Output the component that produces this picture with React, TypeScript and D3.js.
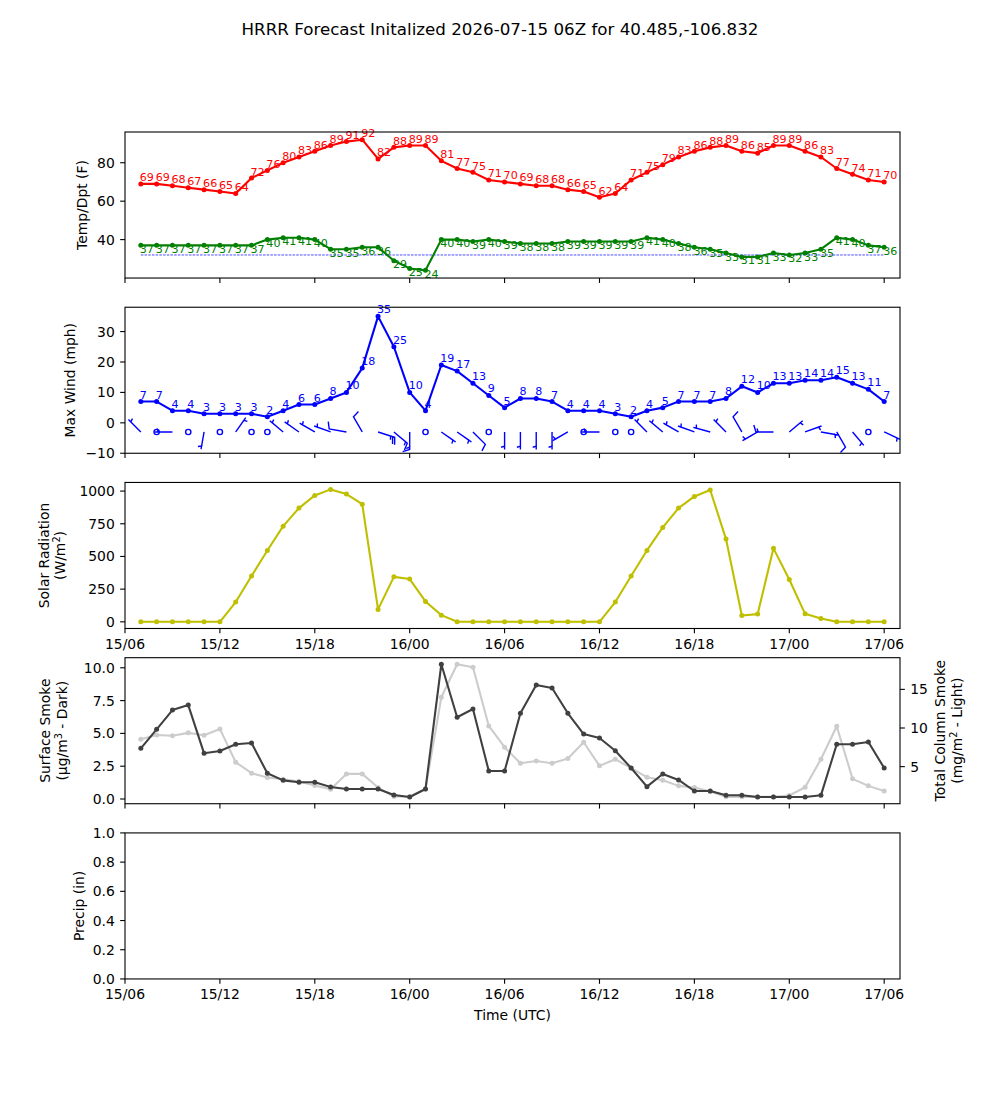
import React from "react";
import * as d3 from "d3";

// HRRR point forecast, hourly from 15/07Z to 17/06Z
const runStart = new Date(Date.UTC(2026, 6, 15, 6));
const runEnd = d3.utcHour.offset(runStart, 49);
const validTimes = d3.range(1, 49).map((h) => d3.utcHour.offset(runStart, h));

const tempF = [69, 69, 68, 67, 66, 65, 64, 72, 76, 80, 83, 86, 89, 91, 92, 82, 88,
  89, 89, 81, 77, 75, 71, 70, 69, 68, 68, 66, 65, 62, 64, 71, 75, 79, 83, 86, 88, 89, 86, 85, 89,
  89, 86, 83, 77, 74, 71, 70];
const dewF = [37, 37, 37, 37, 37, 37, 37, 37, 40, 41, 41, 40, 35, 35, 36, 36, 29,
  25, 24, 40, 40, 39, 40, 39, 38, 38, 38, 39, 39, 39, 39, 39, 41, 40, 38, 36, 35, 33, 31, 31, 33,
  32, 33, 35, 41, 40, 37, 36];
const freezingF = 32;

const maxWind = [7, 7, 4, 4, 3, 3, 3, 3, 2, 4, 6, 6, 8, 10, 18, 35, 25,
  10, 4, 19, 17, 13, 9, 5, 8, 8, 7, 4, 4, 4, 3, 2, 4, 5, 7, 7, 7, 8, 12, 10, 13,
  13, 14, 14, 15, 13, 11, 7];
// 10 m wind barbs: direction the wind blows from (deg) and speed (kt)
const barbDir = [315, 0, 270, 0, 190, 0, 35, 0, 0, 310, 305, 300, 290, 280, 330, 108, 130,
  180, 0, 125, 125, 135, 0, 180, 180, 180, 180, 240, 0, 270, 0, 0, 315, 310, 300, 290, 285, 315, 330, 240, 270,
  50, 70, 100, 150, 140, 0, 115];
const barbKt = [5, 0, 5, 0, 5, 0, 5, 0, 0, 5, 5, 5, 5, 10, 10, 25, 15,
  15, 0, 5, 5, 10, 0, 5, 5, 5, 5, 5, 0, 5, 0, 0, 5, 5, 5, 5, 5, 5, 10, 5, 15,
  5, 5, 5, 10, 5, 0, 5];
const barbLevel = -3;

const solar = [0, 0, 0, 0, 0, 0, 151, 350, 546, 732, 870, 967, 1013, 977, 900, 95, 344,
  327, 156, 51, 0, 0, 0, 0, 0, 0, 0, 0, 0, 0, 151, 350, 546, 722, 870, 959, 1008, 633, 49, 59, 562,
  324, 61, 26, 0, 0, 0, 0];

const smokeSfc = [3.86, 5.31, 6.78, 7.16, 3.48, 3.66, 4.17, 4.27, 1.96, 1.42, 1.27, 1.27, 0.91, 0.76, 0.76, 0.76, 0.3,
  0.15, 0.76, 10.27, 6.23, 6.86, 2.13, 2.13, 6.53, 8.69, 8.46, 6.53, 4.95, 4.65, 3.68, 2.36, 0.94, 1.91, 1.45, 0.61, 0.61, 0.28, 0.28, 0.15, 0.15,
  0.15, 0.15, 0.28, 4.17, 4.17, 4.34, 2.36];
const smokeCol = [8.55, 9.1, 9.0, 9.37, 9.06, 9.88, 5.57, 4.15, 3.59, 3.37, 3.07, 2.55, 2.07, 4.06, 4.06, 2.29, 1.13,
  1.1, 2.1, 13.98, 18.25, 17.86, 10.27, 7.52, 5.44, 5.74, 5.44, 6.04, 8.15, 5.1, 5.96, 4.8, 3.63, 3.24, 2.51, 2.29, 1.78, 1.09, 1.09, 1.09, 1.09,
  1.26, 2.33, 5.96, 10.23, 3.42, 2.51, 1.86];

const tempTicks = [40, 60, 80];
const windTicks = [-10, 0, 10, 20, 30];
const solarTicks = [0, 250, 500, 750, 1000];
const smokeTicks = [0, 2.5, 5, 7.5, 10];
const columnTicks = [5, 10, 15];
const precipTicks = [0, 0.2, 0.4, 0.6, 0.8, 1.0];

const FONT = "DejaVu Sans, Verdana, sans-serif";
const W = 1000;
const H = 1100;
const LEFT = 125;
const RIGHT = 900;
const PANEL_H = 146.03;
const PANEL_STEP = 175.23;
const TOP0 = 132;
const TICK = 4.86;
const SPINE = 1.1;

const x = d3.scaleUtc().domain([runStart, runEnd]).range([LEFT, RIGHT]);
const timeTicks = x.ticks(d3.utcHour.every(6));
const fmtTime = d3.utcFormat("%d/%H");

const panelTop = (i) => TOP0 + i * PANEL_STEP;
const yScale = (i, lo, hi) => d3.scaleLinear().domain([lo, hi]).range([panelTop(i) + PANEL_H, panelTop(i)]);

const yTemp = yScale(0, 20, 96);
const yWind = yScale(1, -10, 38);
const ySolar = yScale(2, -51, 1066);
const ySmoke = yScale(3, -0.36, 10.77);
const yCol = yScale(3, 0.2, 19.1);
const yPrecip = yScale(4, 0, 1);

// matplotlib-style barb: shaft tip at the point, barbs at the far end
function barbVerts(speed, dirDeg, L) {
  const spacing = L * 0.125;
  const fullH = L * 0.4;
  const fullW = L * 0.25;
  let mag = Math.round(speed / 5) * 5;
  const nFlags = Math.floor(mag / 50);
  mag -= nFlags * 50;
  const nBarbs = Math.floor(mag / 10);
  mag -= nBarbs * 10;
  const half = mag >= 5;
  if (!nFlags && !nBarbs && !half) return null;
  const v = [[0, 0]];
  let off = L;
  for (let i = 0; i < nFlags; i++) {
    if (off !== L) off += spacing / 2;
    v.push([0, off], [fullH, off - fullW / 2], [0, off - fullW]);
    off -= fullW + spacing;
  }
  for (let i = 0; i < nBarbs; i++) {
    v.push([0, off], [fullH, off + fullW / 2], [0, off]);
    off -= spacing;
  }
  if (half) {
    if (off === L) {
      v.push([0, off]);
      off -= 1.5 * spacing;
    }
    v.push([0, off], [fullH / 2, off + fullW / 4], [0, off]);
  }
  const r = (dirDeg * Math.PI) / 180;
  const ang = Math.atan2(-Math.cos(r), -Math.sin(r)) + Math.PI / 2;
  const c = Math.cos(ang);
  const s = Math.sin(ang);
  return v.map(([a, b]) => [a * c - b * s, -(a * s + b * c)]);
}

function Frame({ i, ticks, scale, fmt, xLabels }) {
  const top = panelTop(i);
  const bottom = top + PANEL_H;
  return (
    <g>
      <rect x={LEFT} y={top} width={RIGHT - LEFT} height={PANEL_H} fill="none" stroke="#000" strokeWidth={SPINE} />
      {ticks.map((t) => (
        <g key={t}>
          <line x1={LEFT - TICK} x2={LEFT} y1={scale(t)} y2={scale(t)} stroke="#000" strokeWidth={SPINE} />
          <text x={LEFT - 2 * TICK - 0.5} y={scale(t) + 5} textAnchor="end" fontSize={13.9} fontFamily={FONT}>
            {fmt(t)}
          </text>
        </g>
      ))}
      {timeTicks.map((t) => (
        <g key={+t}>
          <line x1={x(t)} x2={x(t)} y1={bottom} y2={bottom + TICK} stroke="#000" strokeWidth={SPINE} />
          {xLabels && (
            <text x={x(t)} y={bottom + 20.5} textAnchor="middle" fontSize={13.9} fontFamily={FONT}>
              {fmtTime(t)}
            </text>
          )}
        </g>
      ))}
    </g>
  );
}

function Series({ values, y, color, r = 2.5, width = 2.08 }) {
  const line = d3.line().x((d, k) => x(validTimes[k])).y((d) => y(d));
  return (
    <g>
      <path d={line(values)} fill="none" stroke={color} strokeWidth={width} strokeLinejoin="round" />
      {values.map((d, k) => (
        <circle key={k} cx={x(validTimes[k])} cy={y(d)} r={r} fill={color} />
      ))}
    </g>
  );
}

// rotated axis title; baseline x is cx, centred on cy
function YTitle({ cx, cy, children }) {
  return (
    <text transform={`translate(${cx},${cy}) rotate(-90)`} textAnchor="middle" fontSize={13.9} fontFamily={FONT}>
      {children}
    </text>
  );
}

export default function App() {
  const mid = (i) => panelTop(i) + PANEL_H / 2;
  const L = 17.5;
  return (
    <svg width={W} height={H} style={{ position: "absolute", left: 0, top: 0, background: "#fff" }}>
      <rect width={W} height={H} fill="#fff" />
      <text x={W / 2} y={35} textAnchor="middle" fontSize={16.7} fontFamily={FONT}>
        HRRR Forecast Initalized 2026-07-15 06Z for 40.485,-106.832
      </text>

      {/* temperature / dewpoint */}
      <line x1={x(validTimes[0])} x2={x(validTimes[47])} y1={yTemp(freezingF)} y2={yTemp(freezingF)}
        stroke="#0000ff" strokeWidth={0.7} strokeDasharray="2.6 1.1" />
      <Series values={tempF} y={yTemp} color="#ff0000" />
      <Series values={dewF} y={yTemp} color="#008000" />
      {tempF.map((d, k) => (
        <text key={"t" + k} x={x(validTimes[k]) - 1} y={yTemp(d) - 2.6} fontSize={11.1} fill="#ff0000" fontFamily={FONT}>
          {d}
        </text>
      ))}
      {dewF.map((d, k) => (
        <text key={"d" + k} x={x(validTimes[k]) - 1} y={yTemp(d) + 7.5} fontSize={11.1} fill="#008000" fontFamily={FONT}>
          {d}
        </text>
      ))}
      <Frame i={0} ticks={tempTicks} scale={yTemp} fmt={String} />

      {/* max wind and barbs */}
      <Series values={maxWind} y={yWind} color="#0000ff" />
      {maxWind.map((d, k) => (
        <text key={"w" + k} x={x(validTimes[k]) - 1} y={yWind(d) - 3} fontSize={11.1} fill="#0000ff" fontFamily={FONT}>
          {d}
        </text>
      ))}
      {barbKt.map((spd, k) => {
        const cx = x(validTimes[k]);
        const cy = yWind(barbLevel);
        const v = barbVerts(spd, barbDir[k], L);
        if (!v) return <circle key={"b" + k} cx={cx} cy={cy} r={0.15 * L} fill="none" stroke="#0000ff" strokeWidth={1.4} />;
        return (
          <path key={"b" + k} d={"M" + v.map(([a, b]) => `${cx + a},${cy + b}`).join("L") + "Z"}
            fill="#0000ff" stroke="#0000ff" strokeWidth={1.4} strokeLinejoin="miter" />
        );
      })}
      <Frame i={1} ticks={windTicks} scale={yWind} fmt={(t) => (t < 0 ? "\u2212" + Math.abs(t) : String(t))} />

      {/* solar radiation */}
      <Series values={solar} y={ySolar} color="#bfbf00" />
      <Frame i={2} ticks={solarTicks} scale={ySolar} fmt={String} xLabels />

      {/* smoke: surface (dark, left axis) and column (light, right axis) */}
      <Series values={smokeCol} y={yCol} color="#cccccc" />
      <Series values={smokeSfc} y={ySmoke} color="#404040" />
      <Frame i={3} ticks={smokeTicks} scale={ySmoke} fmt={d3.format(".1f")} />
      {columnTicks.map((t) => (
        <g key={"c" + t}>
          <line x1={RIGHT} x2={RIGHT + TICK} y1={yCol(t)} y2={yCol(t)} stroke="#000" strokeWidth={SPINE} />
          <text x={RIGHT + 2 * TICK + 0.5} y={yCol(t) + 5} fontSize={13.9} fontFamily={FONT}>
            {t}
          </text>
        </g>
      ))}

      {/* precipitation */}
      <Frame i={4} ticks={precipTicks} scale={yPrecip} fmt={d3.format(".1f")} xLabels />
      <text x={(LEFT + RIGHT) / 2} y={1020} textAnchor="middle" fontSize={13.9} fontFamily={FONT}>
        Time (UTC)
      </text>

      {/* axis titles */}
      <YTitle cx={87} cy={mid(0)}>Temp/Dpt (F)</YTitle>
      <YTitle cx={75} cy={mid(1)}>Max Wind (mph)</YTitle>
      <YTitle cx={49} cy={mid(2)}>
        <tspan x={0} y={0}>Solar Radiation</tspan>
        <tspan x={0} y={15.5}>(W/m</tspan>
        <tspan dy={-5} fontSize={9.7}>2</tspan>
        <tspan dy={5}>)</tspan>
      </YTitle>
      <YTitle cx={50} cy={mid(3)}>
        <tspan x={0} y={0}>Surface Smoke</tspan>
        <tspan x={0} y={16.5}>(μg/m</tspan>
        <tspan dy={-5} fontSize={9.7}>3</tspan>
        <tspan dy={5}> - Dark)</tspan>
      </YTitle>
      <YTitle cx={945} cy={mid(3)}>
        <tspan x={0} y={0}>Total Column Smoke</tspan>
        <tspan x={0} y={17}>(mg/m</tspan>
        <tspan dy={-5} fontSize={9.7}>2</tspan>
        <tspan dy={5}> - Light)</tspan>
      </YTitle>
      <YTitle cx={84} cy={mid(4)}>Precip (in)</YTitle>
    </svg>
  );
}
